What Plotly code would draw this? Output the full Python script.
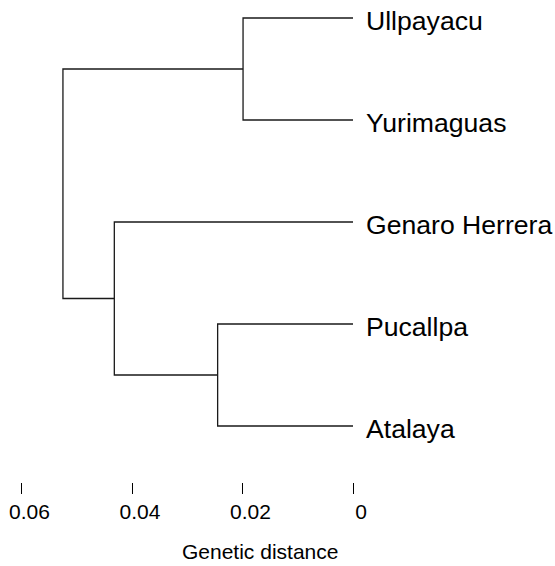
import plotly.graph_objects as go

# ---- data ----
leaves = ["Ullpayacu", "Yurimaguas", "Genaro Herrera", "Pucallpa", "Atalaya"]
# merges: (child_a, child_b, height); children are leaf names or node ids "n0", "n1", ...
merge_a = ["Ullpayacu", "Pucallpa", "Genaro Herrera", "n0"]
merge_b = ["Yurimaguas", "Atalaya", "n1", "n2"]
merge_height = [0.0199, 0.0245, 0.0432, 0.0525]
tick_vals = [0.06, 0.04, 0.02, 0.0]
tick_text = ["0.06", "0.04", "0.02", "0"]
axis_title = "Genetic distance"

# ---- build dendrogram segments ----
pos = {name: (float(i), 0.0) for i, name in enumerate(leaves)}
xs, ys = [], []
for k, (a, b, h) in enumerate(zip(merge_a, merge_b, merge_height)):
    ya, ha = pos[a]
    yb, hb = pos[b]
    xs += [ha, h, h, hb, None]
    ys += [ya, ya, yb, yb, None]
    pos[f"n{k}"] = ((ya + yb) / 2.0, h)

FONT = "Liberation Sans, Arial, Helvetica, sans-serif"
fig = go.Figure()
fig.add_trace(go.Scatter(x=xs, y=ys, mode="lines",
                         line=dict(color="#1a1a1a", width=1.3),
                         hoverinfo="skip", showlegend=False))

for i, name in enumerate(leaves):
    fig.add_annotation(x=0, y=i, xref="x", yref="y", text=name, showarrow=False,
                       xanchor="left", yanchor="middle", xshift=12, yshift=-3,
                       borderpad=0,
                       font=dict(family=FONT, size=26.6, color="black"))

fig.add_annotation(x=0.7143, y=-0.1452, xref="paper", yref="paper", text=axis_title,
                   showarrow=False, xanchor="center", yanchor="middle",
                   font=dict(family=FONT, size=21, color="black"))

fig.update_layout(
    width=555, height=566,
    margin=dict(l=10, r=195, t=0, b=84, autoexpand=False),
    paper_bgcolor="white", plot_bgcolor="white",
    xaxis=dict(range=[0.062081, -0.001267], tickvals=tick_vals, ticktext=tick_text,
               ticks="outside", ticklen=11, tickwidth=1, tickcolor="black",
               ticklabelshift=-8, ticklabeloverflow="allow", automargin=False,
               showgrid=False, zeroline=False, showline=False,
               tickfont=dict(family=FONT, size=21, color="black")),
    yaxis=dict(range=[4.549, -0.17647], visible=False, showgrid=False, zeroline=False),
)

fig.write_html("out.html", config={"displayModeBar": False},
               post_script="document.body.style.margin='0';document.body.style.overflow='hidden';")
